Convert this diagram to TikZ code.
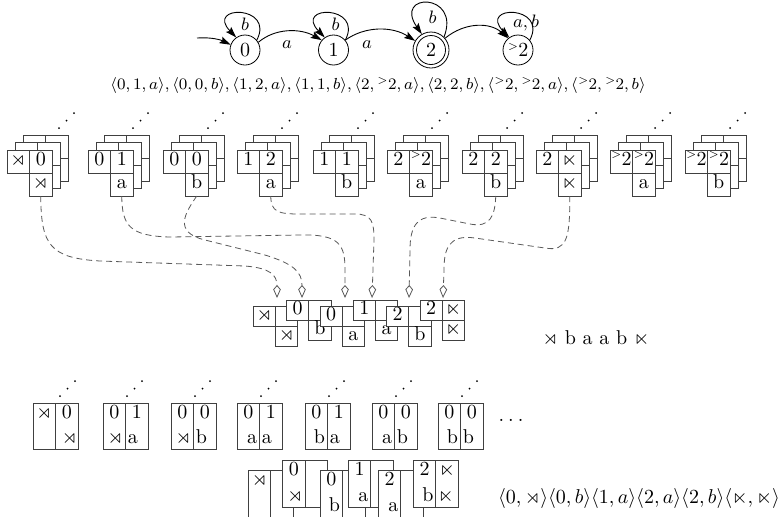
\documentclass[tikz,border=0pt]{standalone}
\usepackage{amssymb}
\usetikzlibrary{arrows.meta}
\definecolor{boxc}{gray}{0.25}
\definecolor{dashc}{gray}{0.35}
\newcommand\tgt{{}^{\scriptscriptstyle >}\mkern-1mu 2}
\tikzset{
 st/.style={draw, circle, minimum size=15pt, inner sep=0pt},
 aut/.style={-{Stealth[length=5.5pt,width=3.6pt,inset=1pt]}, line width=0.45pt},
 lab/.style={font=\small, inner sep=0pt},
 rc/.style={draw=boxc, fill=white, minimum width=11.25pt, minimum height=11.5pt, inner sep=0pt, outer sep=0pt, text height=4.8pt, text depth=1.2pt},
 bk/.style={draw=boxc, fill=white},
 ac/.style={rc, minimum width=11.1pt, minimum height=10pt},
 tc/.style={draw=boxc, fill=white, minimum width=11.25pt, inner sep=0pt, outer sep=0pt},
 tx/.style={inner sep=0pt, anchor=base},
 conn/.style={draw=dashc, dash pattern=on 3pt off 2pt, -{Kite[open,length=6.5pt,width=3.8pt,inset=2.2pt]}},
}
% row-1 stacked group: id, left x, left label, right label, bottom label
\newcommand\grp[5]{%
  \foreach \k in {2,1}{%
    \path[bk] ({#2+8*\k},{150-7.5*\k}) -- ++(45,0) -- ++(0,46) -- ++(-22.5,0) -- ++(0,-23) -- ++(-22.5,0) -- cycle;
    \draw[boxc] ({#2+8*\k+22.5},{150-7.5*\k}) -- ++(0,23) -- ++(22.5,0);
  }%
  \node[rc] (#1l) at ({#2+11.25},161.5) {#3};
  \node[rc] (#1r) at ({#2+33.75},161.5) {#4};
  \node[rc] (#1b) at ({#2+33.75},184.5) {#5};
}
\newcommand\dotsat[2]{%
  \fill (#1,#2) circle[radius=0.5pt] ({#1+7.5},{#2-7.5}) circle[radius=0.5pt] ({#1+15},{#2-15}) circle[radius=0.5pt];}
% assembled box: id, left x, top y, left, right, bottom
\newcommand\asm[6]{%
  \node[ac] (#1l) at ({#2+11.1},{#3+10}) {#4};
  \node[ac] (#1r) at ({#2+33.3},{#3+10}) {#5};
  \node[ac] (#1b) at ({#2+33.3},{#3+30}) {#6};
}
% tall two-cell box: id, left x, top y, height, TL, TR, BL, BR
\newcommand\tb[8]{%
  \node[tc, minimum height={#4*0.5pt}] (#1L) at ({#2+11.25},{#3+#4/2}) {};
  \node[tc, minimum height={#4*0.5pt}] (#1R) at ({#2+33.75},{#3+#4/2}) {};
  \node[tx] (#1a) at ({#2+11.25},{#3+15}) {#5};
  \node[tx] (#1b) at ({#2+33.75},{#3+15}) {#6};
  \node[tx, anchor=base east] (#1c) at ({#2+20.5},{#3+#4-6}) {#7};
  \node[tx, anchor=base west] (#1d) at ({#2+24.5},{#3+#4-6}) {#8};
}
\begin{document}
\begin{tikzpicture}[x=0.5pt, y=-0.5pt]
\useasboundingbox (0,0) rectangle (779,516);
\fill[white] (0,0) rectangle (779,516);

% ---------- automaton ----------
\node[st] (s0) at (245,50) {0};
\node[st] (s1) at (333.5,50) {1};
\node[st, minimum size=18pt] (s2) at (431,50) {2};
\node[st, minimum size=14.5pt] (s2i) at (431,50) {};
\node[st] (s3) at (518,50) {$\tgt$};
\coordinate (ini) at (197,38);
\draw[aut] (ini) .. controls (212,37) and (221,40) .. (s0.160);
\draw[aut] (s0.40) .. controls +(18.5,-35.4) and +(-31.4,-32.7) .. (s0.125);
\draw[aut] (s1.40) .. controls +(18.5,-35.4) and +(-31.4,-32.7) .. (s1.125);
\draw[aut] (s2.45) .. controls +(17.3,-44.8) and +(-29,-41.9) .. (s2.120);
\draw[aut] (s3.40) .. controls +(18.5,-35.4) and +(-31.4,-32.7) .. (s3.125);
\node[lab] (lb0) at (245,24) {$b$};
\node[lab] (lb1) at (335.5,24) {$b$};
\node[lab] (lb2) at (432.5,17.5) {$b$};
\node[lab] (lb3) at (526,23) {$a,b$};
\draw[aut] (s0.30) .. controls (275,28) and (300,28) .. (s1.140);
\draw[aut] (s1.40) .. controls (365,26) and (392,26) .. (s2.150);
\draw[aut] (s2.40) .. controls (465,22) and (490,22) .. (s3.130);
\node[lab] (la1) at (287,45) {$a$};
\node[lab] (la2) at (367,45) {$a$};

% ---------- transitions ----------
\node[font=\fontsize{8.1}{10}\selectfont, inner sep=0pt] (tup) at (378,85)
 {$\langle 0,1,a\rangle, \langle 0,0,b\rangle, \langle 1,2,a\rangle, \langle 1,1,b\rangle, \langle 2,\tgt,a\rangle, \langle 2,2,b\rangle, \langle \tgt,\tgt,a\rangle, \langle \tgt,\tgt,b\rangle$};

% ---------- row 1 ----------
\grp{g1}{7}{$\rtimes$}{0}{$\rtimes$}
\grp{g2}{88}{0}{1}{a}
\grp{g3}{163}{0}{0}{b}
\grp{g4}{237}{1}{2}{a}
\grp{g5}{313}{1}{1}{b}
\grp{g6}{387}{2}{$\tgt$}{a}
\grp{g7}{462}{2}{2}{b}
\grp{g8}{536}{2}{$\ltimes$}{$\ltimes$}
\grp{g9}{610}{$\tgt$}{$\tgt$}{a}
\grp{g10}{685}{$\tgt$}{$\tgt$}{b}
\dotsat{59}{128}
\foreach \L in {88,163,237,313,387,462,536,610,685}{\dotsat{\L+45}{128}}

% ---------- row 2 (assembled) ----------
\asm{a1}{253.3}{306.5}{$\rtimes$}{}{$\rtimes$}
\asm{a2}{286.6}{300.5}{0}{}{b}
\asm{a3}{320}{306.5}{0}{}{a}
\asm{a4}{353.3}{300.5}{1}{}{a}
\asm{a5}{386.6}{306.5}{2}{}{b}
\asm{a6}{420}{300.5}{2}{$\ltimes$}{$\ltimes$}
\node[inner sep=0pt] (w1) at (596,338) {$\rtimes$ b a a b $\ltimes$};

% ---------- connectors ----------
\coordinate (t1) at (277,298);
\coordinate (t2) at (302,298);
\coordinate (t3) at (345,298);
\coordinate (t4) at (372,298);
\coordinate (t5) at (409,298);
\coordinate (t6) at (443,298);
\draw[conn] (g1b.south) .. controls (41,245) and (50,258) .. (100,261) -- (245,266) .. controls (270,268) and (277,275) .. (t1);
\draw[conn] (g2b.south) .. controls (122,226) and (130,236) .. (170,237) -- (300,235) .. controls (340,234) and (345,245) .. (345,270) -- (t3);
\draw[conn] (g3b.south) .. controls (186,212) and (172,232) .. (205,240) -- (265,255) .. controls (294,264) and (302,272) .. (t2);
\draw[conn] (g4b.south) .. controls (271,212) and (278,214) .. (300,214) -- (355,214) .. controls (372,214) and (374,222) .. (374,240) -- (t4);
\draw[conn] (g7b.south) .. controls (495,216) and (490,228) .. (470,224) -- (440,218) .. controls (418,214) and (410,225) .. (410,250) -- (t5);
\draw[conn] (g8b.south) .. controls (570,238) and (567,252) .. (545,248) -- (475,238) .. controls (448,234) and (444,250) .. (444,270) -- (t6);

% ---------- row 3 ----------
\tb{p1}{33}{403}{46}{$\rtimes$}{0}{}{\hspace{2pt}$\rtimes$}
\tb{p2}{103}{403}{46}{0}{1}{$\rtimes$}{a}
\tb{p3}{171}{403}{46}{0}{0}{$\rtimes$}{b}
\tb{p4}{237}{403}{46}{0}{1}{a}{a}
\tb{p5}{305}{403}{46}{0}{1}{b}{a}
\tb{p6}{372}{403}{46}{0}{0}{a}{b}
\tb{p7}{438}{403}{46}{0}{0}{b}{b}
\dotsat{60}{396}
\foreach \L in {103,171,237,305,372,438}{\dotsat{\L+24}{396}}
\node[tx] (ell) at (511,421) {.\hspace{2pt}.\hspace{2pt}.};

% ---------- row 4 ----------
\tb{q1}{248.3}{470.5}{47}{$\rtimes$}{}{}{}
\tb{q2}{282.7}{460}{47}{0}{}{$\rtimes$}{}
\tb{q3}{320}{470.5}{47}{0}{}{b}{}
\tb{q4}{348.3}{460}{47}{1}{}{a}{}
\tb{q5}{378.3}{470.5}{47}{2}{}{a\hspace{3.5pt}}{}
\tb{q6}{413.3}{460}{47}{2}{$\ltimes$}{b}{$\ltimes$}
\node[inner sep=0pt] (w2) at (639,498)
 {$\langle 0,\rtimes\rangle\langle 0,b\rangle\langle 1,a\rangle\langle 2,a\rangle\langle 2,b\rangle\langle \ltimes,\ltimes\rangle$};
\end{tikzpicture}
\end{document}
